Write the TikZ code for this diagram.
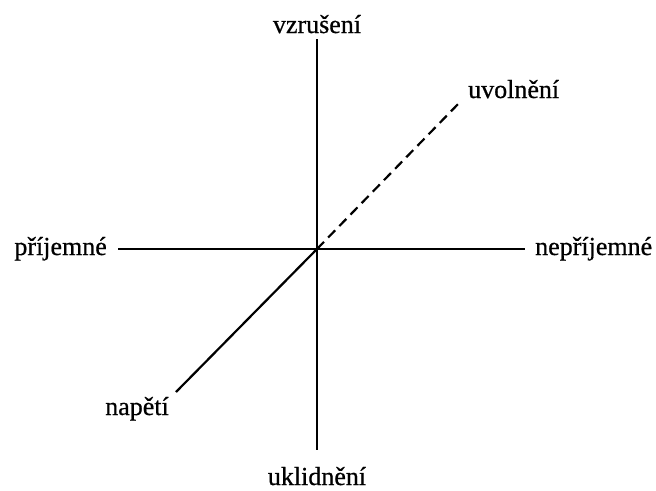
\documentclass[tikz,border=0pt]{standalone}
\usepackage{fontspec}
\setmainfont{Liberation Serif}[FakeBold=0.6]
\usetikzlibrary{positioning}

\begin{document}
\begin{tikzpicture}[x=1pt,y=-1pt,axis/.style={line width=2.2pt},
    every node/.style={font=\fontsize{26}{31}\selectfont,inner sep=0pt}]
  \useasboundingbox (0,0) rectangle (656,490);
  \coordinate (O) at (317,249);
  \coordinate (T) at (317,39);
  \coordinate (B) at (317,450);
  \coordinate (L) at (118,249);
  \coordinate (R) at (525,249);
  \coordinate (U) at (462,100);
  \coordinate (N) at (176,392);
  \draw[axis] (T) -- (B);
  \draw[axis] (L) -- (R);
  \draw[axis,dash pattern=on 10pt off 6pt] (O) -- (U);
  \draw[axis] (O) -- (N);
  \node[anchor=base] (vzr) at (317,33) {vzrušení};
  \node[anchor=base] (ukl) at (317,485) {uklidnění};
  \node[anchor=base east] (pri) at (107,255) {příjemné};
  \node[anchor=base west] (npr) at (535,255) {nepříjemné};
  \node[anchor=base west] (uvo) at (468,98) {uvolnění};
  \node[anchor=base] (nap) at (137,415) {napětí};
\end{tikzpicture}
\end{document}
